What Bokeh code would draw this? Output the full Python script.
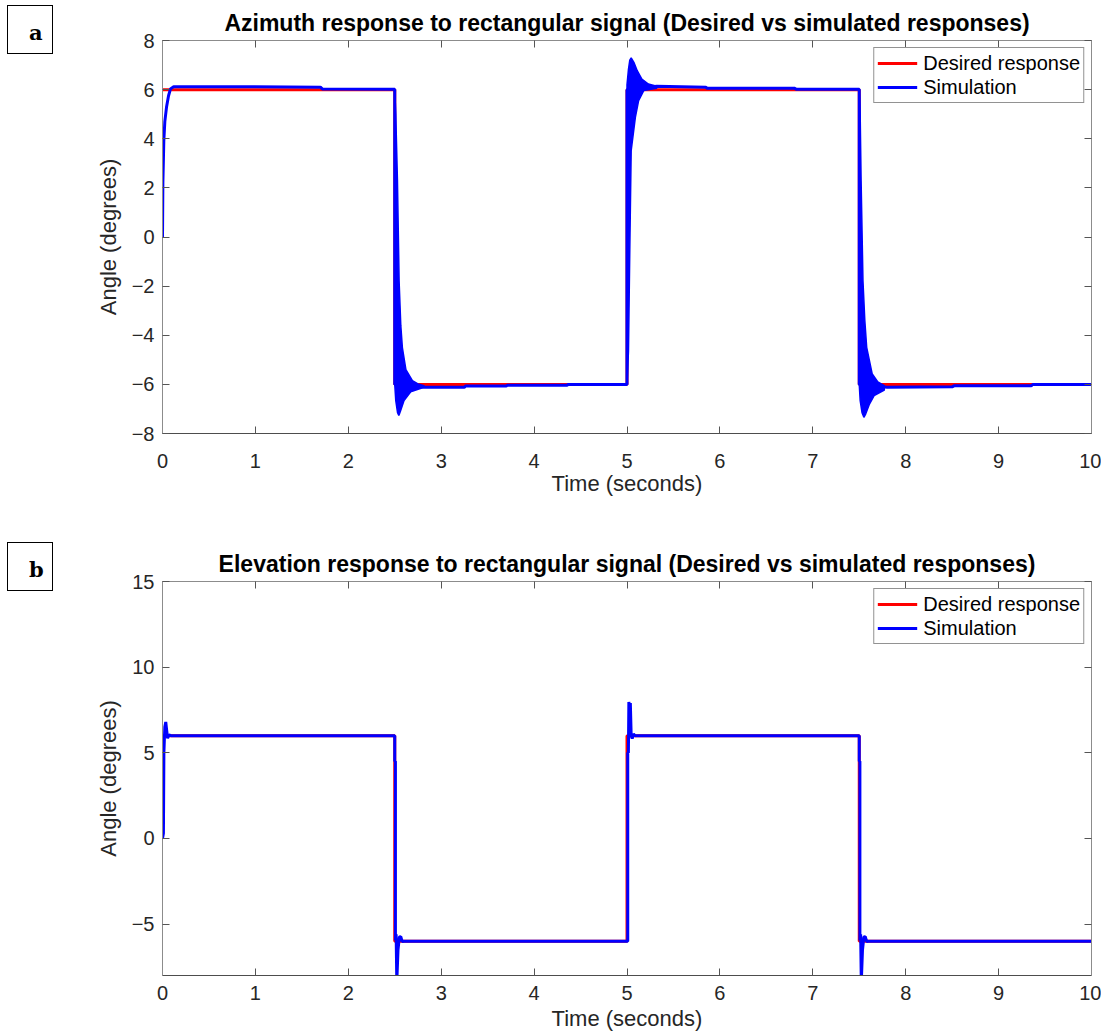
from bokeh.plotting import figure
from bokeh.models import Range1d, LinearAxis, FixedTicker, Div
from bokeh.layouts import column, row
from bokeh.embed import file_html
from bokeh.resources import INLINE

# ---------------- data ----------------
x_ticks = [0, 1, 2, 3, 4, 5, 6, 7, 8, 9, 10]
az_y_ticks = [-8, -6, -4, -2, 0, 2, 4, 6, 8]
el_y_ticks = [-5, 0, 5, 10, 15]

# desired rectangular response (same for both panels)
des_t = [0, 2.5, 2.5, 5.0, 5.0, 7.5, 7.5, 10.0]
des_y = [6, 6, -6, -6, 6, 6, -6, -6]

# azimuth simulated response (main trace)
az_t = [0.0, 0.004, 0.010, 0.014, 0.025, 0.043, 0.065, 0.086, 0.12, 0.6, 1.7, 1.72, 2.5,
        2.5, 2.82, 3.25, 3.26, 3.7, 3.71, 4.35, 4.37, 5.0,
        5.0, 5.32, 5.85, 5.86, 6.8, 6.82, 7.5,
        7.5, 7.8, 8.5, 8.52, 9.35, 9.37, 10.0]
az_y = [0.0, 2.2, 3.2, 3.9, 4.7, 5.28, 5.75, 6.03, 6.12, 6.12, 6.1, 6.03, 6.02,
        -6.0, -6.12, -6.12, -6.07, -6.07, -6.04, -6.04, -6.0, -6.0,
        6.0, 6.14, 6.1, 6.06, 6.06, 6.02, 6.02,
        -6.0, -6.12, -6.1, -6.06, -6.06, -6.0, -6.0]

# azimuth oscillation envelopes (transients)
az_f1_up_t = [2.500, 2.511, 2.529, 2.547, 2.565, 2.582, 2.620, 2.690, 2.750, 2.815]
az_f1_up_y = [6.0, 5.0, 2.3, -1.8, -3.6, -4.5, -5.4, -5.85, -5.98, -6.05]
az_f1_lo_t = [2.500, 2.500, 2.511, 2.530, 2.544, 2.560, 2.600, 2.672, 2.815]
az_f1_lo_y = [6.0, -6.0, -6.66, -7.15, -7.27, -7.10, -6.66, -6.30, -6.12]

az_r_up_t = [5.000, 5.000, 5.015, 5.030, 5.045, 5.074, 5.110, 5.160, 5.230, 5.320]
az_r_up_y = [-6.0, 6.2, 6.8, 7.2, 7.29, 7.11, 6.77, 6.43, 6.23, 6.14]
az_r_lo_t = [5.000, 5.016, 5.030, 5.045, 5.090, 5.125, 5.180, 5.320]
az_r_lo_y = [-6.0, -4.63, -0.55, 3.52, 4.87, 5.55, 5.96, 6.06]

az_f2_up_t = [7.500, 7.510, 7.520, 7.540, 7.560, 7.580, 7.640, 7.700, 7.770]
az_f2_up_y = [6.0, 5.0, 2.29, -1.78, -3.4, -4.49, -5.58, -5.90, -6.05]
az_f2_lo_t = [7.500, 7.500, 7.510, 7.530, 7.550, 7.570, 7.610, 7.660, 7.770]
az_f2_lo_y = [6.0, -6.0, -6.66, -7.15, -7.34, -7.20, -6.80, -6.46, -6.23]

# elevation simulated response
el_t = [0.0, 0.010, 0.015, 0.025, 0.035, 0.045, 0.055, 0.070, 0.090, 2.5,
        2.5, 2.507, 2.507, 2.515, 2.522, 2.535, 2.550, 2.565, 2.580, 2.600, 5.0,
        5.008, 5.008, 5.015, 5.020, 5.030, 5.036, 5.045, 5.056, 5.070, 5.085, 7.5,
        7.5, 7.507, 7.507, 7.515, 7.522, 7.535, 7.550, 7.565, 7.580, 7.600, 10.0]
el_y = [0.0, 0.3, 5.0, 6.5, 6.8, 6.3, 5.85, 6.05, 6.0, 6.0,
        4.5, 4.5, -5.96, -5.6, -8.4, -6.5, -5.75, -5.73, -6.02, -6.0, -6.0,
        -6.0, 5.0, 5.0, 7.97, 7.5, 7.9, 6.0, 5.83, 6.1, 6.0, 6.0,
        4.5, 4.5, -5.96, -5.6, -8.4, -6.5, -5.75, -5.73, -6.02, -6.0, -6.0]

TITLE_A = "Azimuth response to rectangular signal (Desired vs simulated responses)"
TITLE_B = "Elevation response to rectangular signal (Desired vs simulated responses)"
PANEL_A = "a"
PANEL_B = "b"

FONT = "Liberation Sans"
TXT = "#262626"
RED = "#ff0000"
BLUE = "#0000ff"
DIV_W = 60


def style(p, yticks, x_std, x_lab_std):
    p.title.align = "center"
    p.title.text_font = FONT
    p.title.text_font_size = "23px"
    p.title.text_font_style = "bold"
    p.title.text_color = "#000000"
    p.title.standoff = 9
    p.outline_line_color = None
    p.grid.visible = False
    for ax in p.xaxis + p.yaxis:
        ax.major_label_text_font = FONT
        ax.major_label_text_font_size = "20px"
        ax.major_label_text_color = TXT
        ax.axis_label_text_font = FONT
        ax.axis_label_text_font_size = "22px"
        ax.axis_label_text_font_style = "normal"
        ax.axis_label_text_color = TXT
        ax.major_tick_in = 7
        ax.major_tick_out = 0
        ax.minor_tick_line_color = None
        ax.major_tick_line_color = "#555555"
        ax.axis_line_color = "#8c8c8c"
    p.xaxis.ticker = FixedTicker(ticks=x_ticks)
    p.yaxis.ticker = FixedTicker(ticks=yticks)
    p.xaxis.axis_line_color = "#4d4d4d"
    p.xaxis.major_label_standoff = x_std
    p.xaxis.axis_label_standoff = x_lab_std
    p.yaxis.major_label_standoff = 8
    p.yaxis.axis_label_standoff = 8
    # box: mirrored axes on top and right (ticks only, labels not drawn)
    top = LinearAxis(ticker=FixedTicker(ticks=x_ticks))
    right = LinearAxis(ticker=FixedTicker(ticks=yticks))
    for ax in (top, right):
        ax.major_label_text_font_size = "1px"
        ax.major_label_text_color = None
        ax.major_label_standoff = 0
        ax.major_tick_in = 7
        ax.major_tick_out = 0
        ax.minor_tick_line_color = None
        ax.major_tick_line_color = "#555555"
        ax.axis_line_color = "#8c8c8c"
    p.add_layout(top, "above")
    p.add_layout(right, "right")


def legend_style(p):
    lg = p.legend[0]
    lg.location = "top_right"
    lg.label_text_font = FONT
    lg.label_text_font_size = "20px"
    lg.label_text_color = "#000000"
    lg.border_line_color = "#262626"
    lg.border_line_width = 1
    lg.background_fill_color = "white"
    lg.background_fill_alpha = 1
    lg.margin = 7
    lg.padding = 3
    lg.spacing = 0
    lg.glyph_width = 40
    lg.glyph_height = 24
    lg.label_height = 24
    lg.label_standoff = 6


def panel_div(txt, top):
    html = ('<div style="position:relative;left:7px;top:%dpx;width:46px;height:49px;'
            'border:1.5px solid #000;box-sizing:border-box;background:#fff;'
            'font-family:\'DejaVu Serif\';font-weight:bold;font-size:21px;color:#000;">'
            '<span style="position:absolute;left:21px;top:16px;line-height:21px;">%s</span></div>'
            % (top, txt))
    return Div(text=html, width=DIV_W, height=518, margin=0)


# ---------------- panel a ----------------
p1 = figure(width=1101 - DIV_W, height=518, output_backend="svg", toolbar_location=None,
            x_range=Range1d(0, 10), y_range=Range1d(-8, 8),
            min_border_left=162 - DIV_W, min_border_right=10, min_border_top=40,
            min_border_bottom=85, title=TITLE_A)
p1.line(des_t, des_y, color=RED, line_width=3, legend_label="Desired response")
for ut, uy, lt, ly in ((az_f1_up_t, az_f1_up_y, az_f1_lo_t, az_f1_lo_y),
                       (az_r_up_t, az_r_up_y, az_r_lo_t, az_r_lo_y),
                       (az_f2_up_t, az_f2_up_y, az_f2_lo_t, az_f2_lo_y)):
    p1.patch(ut + lt[::-1], uy + ly[::-1], fill_color=BLUE, line_color=BLUE, line_width=1.5)
p1.line(az_t, az_y, color=BLUE, line_width=3, legend_label="Simulation")
p1.xaxis.axis_label = "Time (seconds)"
p1.yaxis.axis_label = "Angle (degrees)"
style(p1, az_y_ticks, 20, 0)
legend_style(p1)

# ---------------- panel b ----------------
p2 = figure(width=1101 - DIV_W, height=518, output_backend="svg", toolbar_location=None,
            x_range=Range1d(0, 10), y_range=Range1d(-8, 15),
            min_border_left=162 - DIV_W, min_border_right=10, min_border_top=63,
            min_border_bottom=61, title=TITLE_B)
p2.line(des_t, des_y, color=RED, line_width=3, legend_label="Desired response")
p2.line(el_t, el_y, color=BLUE, line_width=3, legend_label="Simulation")
p2.xaxis.axis_label = "Time (seconds)"
p2.yaxis.axis_label = "Angle (degrees)"
style(p2, el_y_ticks, 10, 3)
legend_style(p2)

page = column(row(panel_div(PANEL_A, 5), p1, spacing=0),
              row(panel_div(PANEL_B, 24), p2, spacing=0), spacing=0)
open("out.html", "w").write(file_html(page, INLINE))
